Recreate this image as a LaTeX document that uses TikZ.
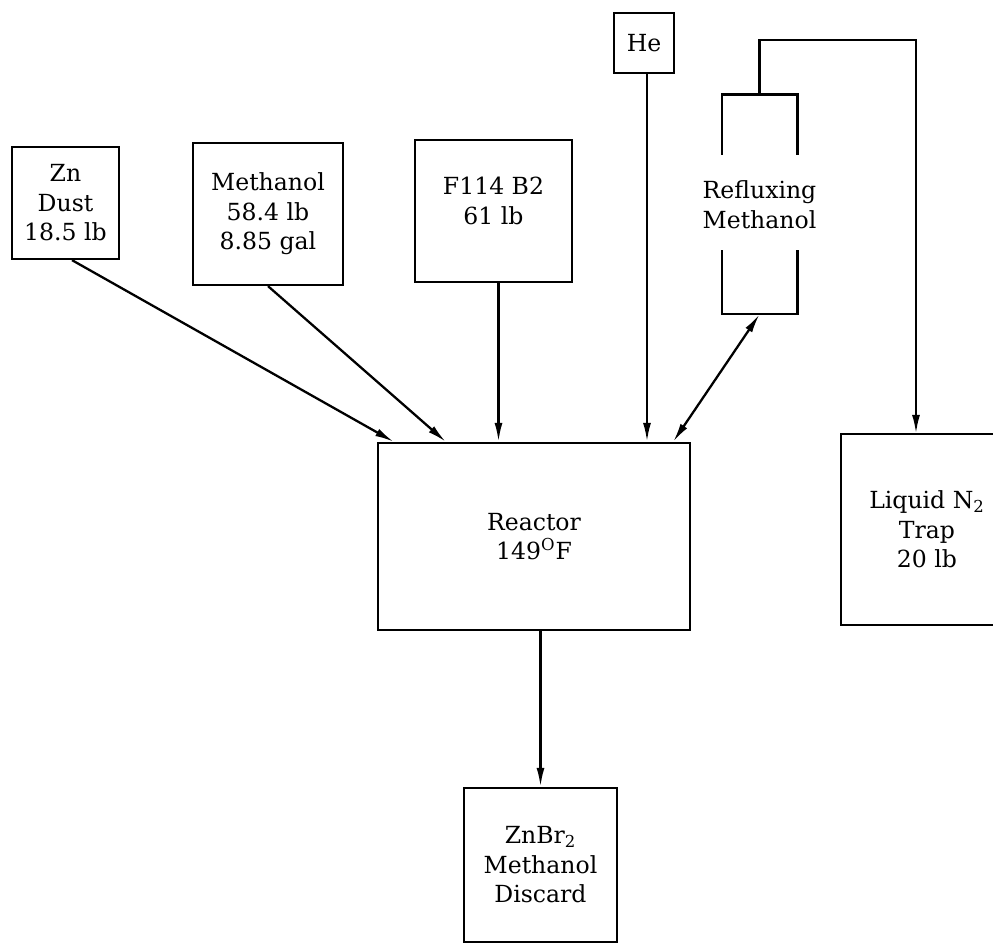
\documentclass[tikz,border=0pt]{standalone}
\usepackage{fontspec}
\setmainfont{DejaVu Serif}
\usetikzlibrary{arrows.meta}

\begin{document}
\begin{tikzpicture}[
  font=\fontsize{13.4}{16.8}\selectfont,
  >={Latex[length=3.8mm,width=1.6mm]},
  block/.style={
    draw,
    rectangle,
    align=center,
    line width=1.3pt
  },
  column/.style={
    rectangle,
    inner sep=0pt,
    minimum width=1.5cm,
    minimum height=4.38cm
  },
  arrow/.style={->, line width=1.3pt},
  twoway/.style={<->, line width=1.3pt},
  wall/.style={line width=1.3pt}
]

\useasboundingbox (0,0) rectangle (19.86,18.88);
\clip (0,0) rectangle (19.86,18.88);

\node[block, minimum width=2.14cm, minimum height=2.24cm] (zn) at (1.31, 14.82) {Zn\\Dust\\18.5 lb};

\node[block, minimum width=3.0cm, minimum height=2.84cm] (methanol) at (5.36, 14.60) {Methanol\\58.4 lb\\8.85 gal};

\node[block, minimum width=3.14cm, minimum height=2.84cm] (f114) at (9.87, 14.66) {F114 B2\\61 lb\\[-0.18cm]};

\node[block, minimum width=1.2cm, minimum height=1.2cm] (he) at (12.88, 18.02) {He};

\node[column] (condenser) at (15.19, 14.79) {};
\node[align=center] (reflux) at (condenser) {Refluxing\\Methanol};

\node[block, minimum width=6.24cm, minimum height=3.74cm] (reactor) at (10.68, 8.15) {Reactor\\149\textsuperscript{O}F};

% trap runs off the right edge
\node[block, draw=none, minimum width=3.4cm, minimum height=3.78cm] (trap) at (18.54, 8.29) {Liquid N\textsubscript{2}\\Trap\\20 lb};
\draw[wall] (trap.north east) -- (trap.north west) -- (trap.south west) -- (trap.south east);

\node[block, minimum width=3.06cm, minimum height=3.08cm] (discard) at (10.81, 1.58) {ZnBr\textsubscript{2}\\Methanol\\Discard};

% condenser walls
\draw[wall] ([yshift=-1.2cm]condenser.north west) -- (condenser.north west) -- (condenser.north east) -- ([yshift=-1.2cm]condenser.north east);
\draw[wall] ([yshift=1.28cm]condenser.south west) -- (condenser.south west) -- (condenser.south east) -- ([yshift=1.28cm]condenser.south east);

\coordinate (vent) at (18.32, 18.08);

% feeds
\draw[arrow] ([xshift=0.13cm]zn.south) -- ([xshift=0.34cm]reactor.north west);
\draw[arrow] (methanol.south) -- ([xshift=1.38cm]reactor.north west);
\draw[arrow] ([xshift=0.1cm]f114.south) -- ([xshift=0.1cm]f114.south |- reactor.north);
\draw[arrow] ([xshift=0.06cm]he.south) -- ([xshift=0.06cm]he.south |- reactor.north);
\draw[twoway] ([xshift=-0.36cm]reactor.north east) -- (condenser.south);

% vent line to trap
\draw[arrow] (condenser.north) |- (vent) -- (vent |- trap.north);

\draw[arrow] (reactor.south -| discard.north) -- (discard.north);

\end{tikzpicture}
\end{document}
